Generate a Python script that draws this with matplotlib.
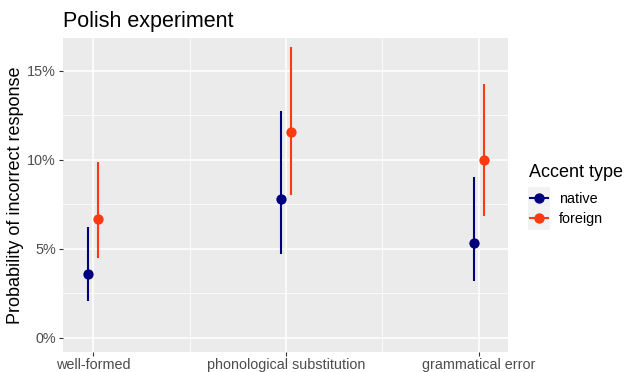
import matplotlib
matplotlib.use("Agg")
import matplotlib.pyplot as plt
from matplotlib.lines import Line2D
from matplotlib.patches import Rectangle
from matplotlib.ticker import FuncFormatter, MultipleLocator
import numpy as np

plt.rcParams["font.family"] = ["Liberation Sans", "DejaVu Sans"]

# data
categories = ["well-formed", "phonological substitution", "grammatical error"]
groups = ["native", "foreign"]
native_est = [0.036, 0.078, 0.0535]
native_lo = [0.0205, 0.047, 0.032]
native_hi = [0.0625, 0.1275, 0.0905]
foreign_est = [0.0668, 0.1155, 0.0998]
foreign_lo = [0.045, 0.0805, 0.0685]
foreign_hi = [0.0988, 0.1635, 0.1427]

colors = {"native": "#00007F", "foreign": "#FF3A10"}
dodge = {"native": -0.026, "foreign": 0.026}

fig = plt.figure(figsize=(6.25, 3.72), dpi=100)
ax = fig.add_axes([0.1008, 0.0538, 0.712, 0.8441])
ax.set_facecolor("#EBEBEB")
for s in ax.spines.values():
    s.set_visible(False)

x = np.arange(1, len(categories) + 1)
series = {
    "native": (native_est, native_lo, native_hi),
    "foreign": (foreign_est, foreign_lo, foreign_hi),
}
for g in groups:
    est, lo, hi = series[g]
    xs = x + dodge[g]
    ax.vlines(xs, lo, hi, color=colors[g], lw=1.5, zorder=3)
    ax.scatter(xs, est, s=55, color=colors[g], zorder=4, linewidths=0)

ax.set_xlim(0.843, 3.152)
ax.set_ylim(-0.0079, 0.1685)
ax.set_xticks(x)
ax.set_xticks([1.5, 2.5], minor=True)
ax.set_xticklabels(categories)
ax.yaxis.set_major_locator(MultipleLocator(0.05))
ax.yaxis.set_minor_locator(MultipleLocator(0.025))
ax.yaxis.set_major_formatter(FuncFormatter(lambda v, p: f"{v*100:.0f}%"))

ax.grid(which="major", color="white", lw=1.1, zorder=0)
ax.grid(which="minor", color="white", lw=0.55, zorder=0)
ax.set_axisbelow(True)
ax.tick_params(which="major", length=3, width=0.8, color="#333333",
               labelcolor="#4D4D4D", labelsize=10.4, pad=2)
ax.tick_params(axis="x", which="major", pad=1)
ax.tick_params(which="minor", length=0)

ax.set_ylabel("Probability of incorrect response", fontsize=13, color="black", labelpad=2)
ax.set_title("Polish experiment", fontsize=15.5, loc="left", pad=8)

# legend with grey key boxes, ggplot-like
fig.text(529 / 625, 1 - 177 / 372, "Accent type", fontsize=13, ha="left", va="baseline")
fig.patches.append(Rectangle((528 / 625, 1 - 230 / 372), 22 / 625, 43 / 372,
                             transform=fig.transFigure, facecolor="#F2F2F2",
                             edgecolor="none", zorder=0))
handles = [Line2D([0], [0], color=colors[g], lw=1.5, marker="o", markersize=7.5,
                  markeredgewidth=0) for g in groups]
leg = fig.legend(handles, groups, loc="upper left", bbox_to_anchor=(530 / 625, 1 - 192 / 372),
                 frameon=False, fontsize=10.4, handlelength=1.25, handletextpad=0.75,
                 labelspacing=0.45, borderpad=0, borderaxespad=0)

fig.savefig("out.png", dpi=100)
